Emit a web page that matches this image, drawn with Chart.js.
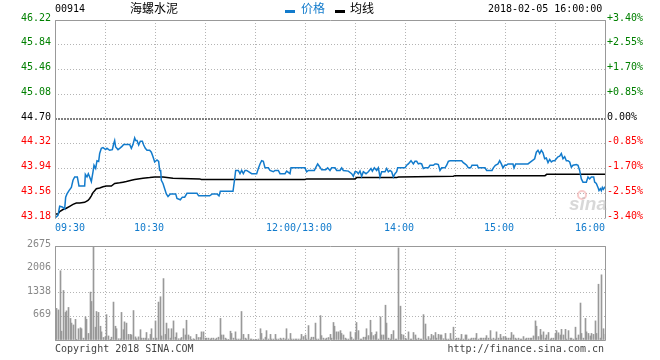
<!DOCTYPE html>
<html><head><meta charset="utf-8">
<script src="https://cdn.jsdelivr.net/npm/chart.js@4.4.0/dist/chart.umd.min.js"></script>
<style>
html,body{margin:0;padding:0;background:#fff;}
#wrap{position:relative;width:660px;height:360px;overflow:hidden;font-family:'DejaVu Sans Mono',monospace;}
.t{position:absolute;white-space:nowrap;font-family:'DejaVu Sans Mono',monospace;font-size:10px;line-height:10px;}
.cjk{position:absolute;white-space:nowrap;font-family:'Noto Sans CJK SC',sans-serif;font-size:12px;line-height:12px;}
.mk{position:absolute;height:3px;width:10px;}
#c1{position:absolute;left:0;top:0;}
#c2{position:absolute;left:0;top:236px;}
</style></head><body>
<div id="wrap">
<canvas id="c1" width="660" height="240"></canvas>
<canvas id="c2" width="660" height="124"></canvas>
<div class="t" style="left:55px;top:4px;color:#000">00914</div>
<div class="cjk" style="left:130px;top:2px;color:#000">海螺水泥</div>
<div class="mk" style="left:285px;top:10px;background:#127bcc"></div>
<div class="cjk" style="left:301px;top:2px;color:#127bcc">价格</div>
<div class="mk" style="left:335px;top:10px;background:#000"></div>
<div class="cjk" style="left:350px;top:2px;color:#000">均线</div>
<div class="t" style="left:488px;top:4px;color:#000">2018-02-05 16:00:00</div>
<div class="t" style="left:55px;top:344px;color:#444">Copyright 2018 SINA.COM</div>
<div class="t" style="right:56px;top:344px;color:#444">http://finance.sina.com.cn</div>
</div>
<script>
// ---- data ----
const prevClose = 44.70;
const priceTicks = [46.22, 45.84, 45.46, 45.08, 44.70, 44.32, 43.94, 43.56, 43.18];
const pctTicks = ['+3.40%', '+2.55%', '+1.70%', '+0.85%', '0.00%', '-0.85%', '-1.70%', '-2.55%', '-3.40%'];
const timeLabels = ['09:30', '10:30', '12:00/13:00', '14:00', '15:00', '16:00'];
const timeLabelMinutes = [0, 60, 150, 210, 270, 330]; // trading minutes since open (lunch removed)
const volTicks = [2675, 2006, 1338, 669];

// [trading minute, price]
const pricePoints = [[0,43.18],[1.8,43.22],[2.8,43.36],[4.4,43.35],[5.8,43.32],[6.4,43.50],[7.2,43.55],[8.4,43.60],[9.8,43.65],[10.8,43.76],[11.8,43.81],[13.4,43.81],[14.4,43.67],[17.8,43.67],[18.2,43.85],[19.2,43.81],[20,43.86],[20.8,43.81],[21.8,43.74],[22.8,43.89],[23.4,43.99],[24.4,43.94],[25.2,44.06],[26.2,44.05],[26.8,44.17],[27.8,44.25],[28.8,44.26],[30.4,44.23],[31.2,44.25],[32.8,44.22],[34.4,44.23],[35.2,44.32],[35.8,44.37],[36.4,44.27],[37.8,44.23],[38.8,44.25],[40.2,44.28],[41.2,44.31],[44.8,44.31],[45.8,44.25],[46.8,44.31],[47.8,44.41],[48.4,44.37],[49.2,44.37],[50.2,44.30],[51.2,44.36],[52.4,44.36],[53.2,44.30],[54.2,44.25],[55.2,44.22],[56.8,44.22],[57.8,44.19],[58.8,44.12],[59.8,44.04],[61.2,44.07],[62.2,44.05],[62.8,43.91],[63.4,43.91],[63.8,43.76],[64.8,43.71],[65.8,43.63],[66.8,43.55],[67.8,43.51],[69.2,43.55],[72.4,43.55],[73.2,43.48],[75.2,43.46],[76.4,43.50],[77.8,43.50],[79.2,43.56],[85.2,43.56],[86.2,43.52],[92.8,43.52],[94.4,43.55],[97.2,43.55],[98.4,43.52],[99.2,43.59],[106.8,43.59],[107.8,43.78],[108.4,43.91],[110,43.91],[111,43.86],[112,43.91],[113,43.86],[114,43.91],[115,43.91],[118,43.86],[121,43.86],[122,43.94],[123,44.01],[124,44.06],[125,44.05],[126,43.95],[128,43.95],[129,43.91],[131,43.89],[132,43.91],[134,43.91],[135,43.86],[138,43.86],[139,43.90],[141,43.86],[141.6,43.95],[150,43.95],[151,43.89],[152,43.91],[155.6,43.91],[156.6,43.96],[157.6,44.01],[159,43.96],[160,43.92],[162.4,43.92],[163.6,43.95],[165,43.91],[166,43.95],[168,43.95],[169,43.91],[171,43.91],[172,43.95],[173,43.91],[176,43.90],[178,43.86],[179,43.82],[180,43.89],[181,43.89],[182,43.86],[183,43.90],[184,43.82],[185,43.89],[186.6,43.86],[188,43.89],[189.6,43.94],[190.4,43.90],[191.6,43.95],[193,43.91],[194,43.95],[195,43.81],[196,43.89],[198,43.89],[199,43.94],[200,43.89],[201,43.91],[202,43.89],[203,43.81],[204,43.86],[205,43.89],[205.6,43.95],[210,43.95],[211,43.99],[212,44.01],[213.6,44.06],[215,44.01],[216,44.05],[217,44.05],[218,44.01],[219,44.02],[220,44.01],[221,43.94],[222,43.95],[224,43.95],[225,43.99],[227,43.99],[228,44.01],[229,44.01],[230,44.00],[231,43.91],[232,43.95],[234,43.95],[235,43.99],[236,44.05],[237,44.06],[244,44.06],[245,44.03],[246,44.01],[247,43.99],[248,43.95],[249.4,43.95],[250.2,43.99],[253.4,43.99],[254,43.95],[258,43.95],[259,43.91],[262.2,43.91],[263,43.95],[264.2,43.99],[265.8,44.01],[266.8,44.06],[267.8,44.01],[268.8,43.95],[269.8,43.99],[270.8,43.99],[271.8,44.01],[274.8,44.01],[275.4,43.95],[276.4,44.01],[283.8,44.01],[284.8,44.03],[287.8,44.09],[288.8,44.19],[289.8,44.22],[290.8,44.17],[291.8,44.22],[292.8,44.18],[293.8,44.09],[294.8,44.10],[295.8,44.03],[296.8,44.08],[297.8,44.04],[298.8,44.06],[299.8,44.06],[300.8,44.09],[301.8,44.12],[302.8,44.13],[303.8,44.17],[304.8,44.09],[305.8,44.12],[306.8,44.06],[307.8,44.06],[308.8,44.04],[309.8,43.96],[310.8,43.99],[312.8,44.00],[313.8,43.99],[314.8,43.91],[315.4,43.83],[315.8,43.78],[316.8,43.73],[318.8,43.73],[319.8,43.81],[320.8,43.78],[321.8,43.81],[323.2,43.81],[323.8,43.73],[324.8,43.71],[325.8,43.65],[326.4,43.60],[327.2,43.63],[327.8,43.60],[328.4,43.65],[329,43.62],[330,43.66]];

// [trading minute, average price]
const avgPoints = [[0,43.24],[1.8,43.24],[2.8,43.28],[4.8,43.31],[6.8,43.33],[8.8,43.36],[10.8,43.39],[12.8,43.41],[14.8,43.41],[17.8,43.42],[19.8,43.45],[20.8,43.48],[21.8,43.52],[22.8,43.57],[23.8,43.60],[24.8,43.63],[26.8,43.64],[28.8,43.66],[30.8,43.67],[33.8,43.67],[35.8,43.71],[38.8,43.72],[40.8,43.73],[42.8,43.74],[45.8,43.76],[47.8,43.77],[49.8,43.78],[52.8,43.79],[56.8,43.80],[59.8,43.81],[64.8,43.81],[70.8,43.79],[86.8,43.78],[87.8,43.77],[150,43.77],[151,43.78],[180,43.78],[181,43.80],[205,43.80],[206,43.81],[239,43.82],[240,43.83],[294,43.83],[295,43.85],[330,43.85]];

// volume per trading minute (index = minute 0..330)
const volumes = [
0,900,856,1971,250,1409,785,829,927,615,
481,428,588,20,321,348,321,53,660,588,
187,1364,1097,2657,365,811,785,392,232,71,
98,722,116,20,80,1079,392,321,36,36,
785,294,517,481,160,160,143,838,89,36,
89,294,53,53,53,214,36,160,321,53,
544,53,1079,1231,116,1748,160,481,321,53,
321,544,80,205,36,36,71,321,143,562,
143,98,9,36,20,160,71,71,232,232,
53,53,53,27,53,53,20,53,80,615,
143,143,53,27,20,250,187,53,232,27,
27,27,811,160,53,27,160,27,27,20,
20,10,27,321,187,27,80,267,27,160,
27,27,160,27,27,53,27,53,27,321,
27,187,27,27,27,27,27,27,160,98,
143,27,410,27,80,80,481,27,27,695,
125,53,27,53,71,160,53,499,392,232,
232,267,187,143,53,27,27,232,80,27,
214,499,267,27,27,80,80,321,125,562,
214,125,160,232,27,660,143,143,990,481,
53,27,160,267,27,27,2621,963,160,143,
53,27,232,27,27,214,143,27,53,27,
27,722,455,27,98,36,160,125,214,53,
160,143,143,36,187,27,27,187,27,365,
27,53,53,27,160,27,143,143,27,27,
53,53,53,187,27,53,53,53,53,125,
53,267,27,53,27,232,53,160,53,98,
98,53,53,53,214,143,53,27,53,27,
27,98,27,53,53,53,53,116,544,392,
98,303,143,232,53,143,214,27,53,53,
187,267,205,143,303,143,303,27,267,53,
53,27,365,53,143,1052,187,53,615,232,
187,116,187,160,544,187,1587,53,1855,321,
160];

// ---- styles ----
const BLUE = '#127bcc';
const GRID = '#b4b4b4';
const FRAME = '#999999';
const MONO = "'DejaVu Sans Mono', monospace";
const tickColor = v => v > prevClose + 1e-6 ? '#008000' : (v < prevClose - 1e-6 ? '#ff0000' : '#000000');
const idxOf = v => priceTicks.findIndex(t => Math.abs(t - v) < 1e-6);

const framePlugin = {
  id: 'frame',
  afterDraw(chart, args, opts) {
    const {ctx, chartArea: a} = chart;
    const L = Math.round(a.left) + 0.5, R = Math.round(a.right) + 0.5;
    const T = Math.round(a.top) + 0.5, B = Math.round(a.bottom) + 0.5;
    ctx.save();
    ctx.strokeStyle = FRAME; ctx.lineWidth = 1; ctx.setLineDash([]);
    ctx.beginPath();
    ctx.moveTo(L, B); ctx.lineTo(L, T); ctx.lineTo(R, T); ctx.lineTo(R, B);
    if (opts.bottom) ctx.lineTo(L, B);
    ctx.stroke();
    ctx.restore();
  }
};

// snap the 1px volume bars to whole pixels so they render crisp
const snapBarsPlugin = {
  id: 'snapBars',
  beforeDatasetsDraw(chart) {
    chart.getDatasetMeta(0).data.forEach(el => { el.x = Math.floor(el.x) + 0.5; });
  }
};

const timeLabelPlugin = {
  id: 'timeLabels',
  afterDraw(chart) {
    const {ctx} = chart;
    const x = chart.scales.x;
    ctx.save();
    ctx.font = '10px ' + MONO;
    ctx.fillStyle = BLUE;
    ctx.textBaseline = 'middle';
    timeLabels.forEach((lab, i) => {
      const px = x.getPixelForValue(timeLabelMinutes[i]);
      if (i === 0) { ctx.textAlign = 'left'; ctx.fillText(lab, px, 228); }
      else if (i === timeLabels.length - 1) { ctx.textAlign = 'right'; ctx.fillText(lab, px, 228); }
      else { ctx.textAlign = 'center'; ctx.fillText(lab, px - 6, 228); }
    });
    // watermark
    ctx.globalAlpha = 0.55;
    ctx.strokeStyle = '#f0a0a0'; ctx.lineWidth = 2;
    ctx.beginPath(); ctx.arc(582, 195, 4, 0, Math.PI * 2); ctx.stroke();
    ctx.fillStyle = '#b8b8b8';
    ctx.font = 'italic bold 19px "Liberation Sans", sans-serif';
    ctx.textAlign = 'left'; ctx.textBaseline = 'alphabetic';
    ctx.fillText('sina', 569, 210);
    ctx.restore();
  }
};

const lineDs = (pts, color, width, extra) => Object.assign({
  data: pts.map(p => ({x: p[0], y: p[1]})),
  borderColor: color, borderWidth: width, pointRadius: 0, tension: 0, fill: false, yAxisID: 'y'
}, extra || {});

new Chart(document.getElementById('c1'), {
  type: 'line',
  data: {
    datasets: [
      lineDs(pricePoints, BLUE, 1.5),
      lineDs(avgPoints, '#000000', 1.5),
      lineDs([[0, prevClose], [330, prevClose]], '#000000', 1, {borderDash: [2, 1]})
    ]
  },
  options: {
    responsive: false, animation: false, events: [],
    layout: {padding: {top: 20, bottom: 22, left: 0, right: 0}},
    plugins: {legend: {display: false}, tooltip: {enabled: false}, frame: {bottom: false}},
    scales: {
      x: {
        type: 'linear', min: 0, max: 330,
        ticks: {display: false, stepSize: 30},
        grid: {color: GRID, drawTicks: false},
        border: {display: false, dash: [1, 2]},
        afterFit: s => { s.height = 0; }
      },
      y: {
        position: 'left', min: 43.18, max: 46.22,
        afterBuildTicks: s => { s.ticks = priceTicks.map(v => ({value: v})); },
        afterFit: s => { s.width = 55; },
        ticks: {
          padding: 4, labelOffset: -2,
          font: {family: MONO, size: 10},
          color: c => tickColor(c.tick.value),
          callback: v => priceTicks[idxOf(v)].toFixed(2)
        },
        grid: {color: c => (c.tick && Math.abs(c.tick.value - prevClose) < 1e-6) ? 'rgba(0,0,0,0)' : GRID, drawTicks: false},
        border: {display: false, dash: [1, 2]}
      },
      y2: {
        position: 'right', min: 43.18, max: 46.22,
        afterBuildTicks: s => { s.ticks = priceTicks.map(v => ({value: v})); },
        afterFit: s => { s.width = 55; },
        ticks: {
          padding: 2, labelOffset: -2,
          font: {family: MONO, size: 10},
          color: c => tickColor(c.tick.value),
          callback: v => pctTicks[idxOf(v)]
        },
        grid: {drawOnChartArea: false, drawTicks: false},
        border: {display: false}
      }
    }
  },
  plugins: [framePlugin, timeLabelPlugin]
});

new Chart(document.getElementById('c2'), {
  type: 'bar',
  data: {
    datasets: [{
      data: volumes.map((v, i) => ({x: i, y: v})),
      backgroundColor: '#999999', borderWidth: 0, barThickness: 1
    }]
  },
  options: {
    responsive: false, animation: false, events: [],
    layout: {padding: {top: 4, bottom: 20, left: 0, right: 55}},
    plugins: {legend: {display: false}, tooltip: {enabled: false}, frame: {bottom: true}},
    scales: {
      x: {
        type: 'linear', min: 0, max: 330, offset: false,
        ticks: {display: false, stepSize: 30},
        grid: {color: GRID, drawTicks: false, offset: false},
        border: {display: false, dash: [1, 2]},
        afterFit: s => { s.height = 0; }
      },
      y: {
        position: 'left', min: 0, max: volTicks[0],
        afterBuildTicks: s => { s.ticks = volTicks.concat([0]).map(v => ({value: v})); },
        afterFit: s => { s.width = 55; },
        ticks: {
          padding: 4, labelOffset: -2, color: '#888888',
          font: {family: MONO, size: 10},
          callback: v => v === 0 ? '' : String(v)
        },
        grid: {color: GRID, drawTicks: false},
        border: {display: false, dash: [1, 2]}
      }
    }
  },
  plugins: [snapBarsPlugin, framePlugin]
});
</script>
</body></html>
